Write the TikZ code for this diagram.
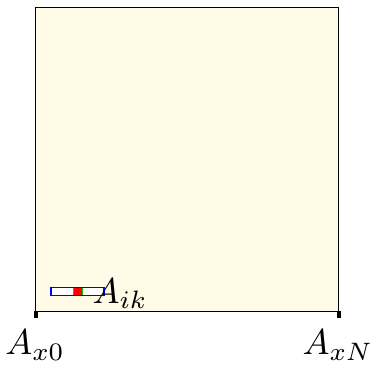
\documentclass[tikz,border=0pt]{standalone}
\definecolor{cream}{RGB}{255,251,231}
\begin{document}
\begin{tikzpicture}[x=1pt,y=1pt,
  lbl/.style={inner sep=0pt,scale=3.6}]
\useasboundingbox (0,0) rectangle (371,365);
% main box
\draw[fill=cream,line width=0.8pt] (35,54) coordinate (bl) rectangle (338,358) coordinate (tr);
% ticks
\fill (34,47.5) rectangle (37.5,54.5);
\fill (336.5,47.5) rectangle (340.5,54.5);
% element
\fill[white] (51,69.5) rectangle (104,77.5);
\fill[red] (73,69.5) rectangle (82,77.5);
\draw[green!80!black,line width=0.8pt] (73,69.5) -- (73,77.5) (82,69.5) -- (82,77.5);
\draw[blue,line width=1.8pt] (51,69.5) rectangle (104,77.5);
% labels
\node[lbl,anchor=base west] (aik) at (92,62) {$A_{ik}$};
\node[lbl] (ax0) at (35,20) {$A_{x0}$};
\node[lbl] (axn) at (338,20) {$A_{xN}$};
\end{tikzpicture}
\end{document}
